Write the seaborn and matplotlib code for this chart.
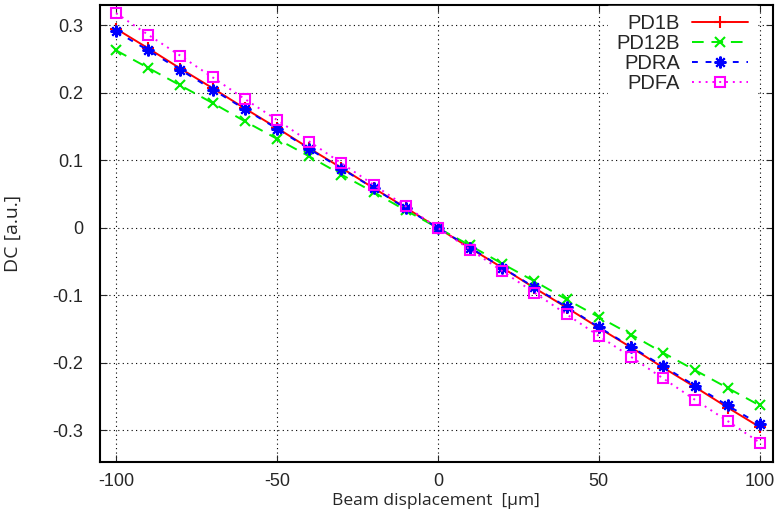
import numpy as np
import pandas as pd
import matplotlib
matplotlib.use("Agg")
import matplotlib.pyplot as plt
import seaborn as sns

# beam displacement in um
x = [-100, -90, -80, -70, -60, -50, -40, -30, -20, -10, 0,
     10, 20, 30, 40, 50, 60, 70, 80, 90, 100]

pd1b = [0.295, 0.266, 0.236, 0.207, 0.177, 0.148, 0.118, 0.089, 0.059, 0.030, 0.0,
        -0.030, -0.059, -0.089, -0.118, -0.148, -0.177, -0.207, -0.236, -0.266, -0.295]
pd12b = [0.263, 0.237, 0.211, 0.185, 0.158, 0.132, 0.106, 0.079, 0.053, 0.026, 0.0,
         -0.026, -0.053, -0.079, -0.106, -0.132, -0.158, -0.185, -0.211, -0.237, -0.263]
pdra = [0.291, 0.263, 0.234, 0.205, 0.176, 0.147, 0.117, 0.088, 0.059, 0.029, 0.0,
        -0.029, -0.059, -0.088, -0.117, -0.147, -0.176, -0.205, -0.234, -0.263, -0.291]
pdfa = [0.318, 0.286, 0.255, 0.223, 0.191, 0.160, 0.128, 0.096, 0.064, 0.032, 0.0,
        -0.032, -0.064, -0.096, -0.128, -0.160, -0.191, -0.223, -0.255, -0.286, -0.318]

names = ["PD1B", "PD12B", "PDRA", "PDFA"]
values = [pd1b, pd12b, pdra, pdfa]

sns.set_style("ticks")
plt.rcParams['font.family'] = ['Liberation Sans', 'DejaVu Sans']
plt.rcParams['axes.unicode_minus'] = False

fig = plt.figure(figsize=(7.75, 5.13), dpi=100)
ax = fig.add_axes([0.129, 0.099, 0.868, 0.891])

styles = {
    "PD1B":  dict(color="#ff0000", linestyle="-", marker="+", ms=8),
    "PD12B": dict(color="#00ee00", linestyle=(0, (6, 4)), marker="x", ms=6.5),
    "PDRA":  dict(color="#0000ff", linestyle=(0, (3, 4)), marker=(8, 2, 0), ms=8.5),
    "PDFA":  dict(color="#ff00ff", linestyle=(0, (1, 2.5)), marker="s", ms=6.5),
}

for name, vals in zip(names, values):
    df = pd.DataFrame({"x": x, "y": vals})
    st = styles[name]
    sns.lineplot(data=df, x="x", y="y", ax=ax, label=name, color=st["color"],
                 linestyle=st["linestyle"], marker=st["marker"], markersize=st["ms"],
                 markerfacecolor="none", markeredgecolor=st["color"],
                 markeredgewidth=1.5, linewidth=1.4)

ax.set_xlim(-105, 104)
ax.set_ylim(-0.347, 0.33)
ax.set_xticks([-100, -50, 0, 50, 100])
ax.set_yticks([-0.3, -0.2, -0.1, 0, 0.1, 0.2, 0.3])
ax.set_yticklabels(["-0.3", "-0.2", "-0.1", "0", "0.1", "0.2", "0.3"])
ax.grid(True, color="black", linestyle=(0, (1, 3)), linewidth=0.8)
ax.tick_params(direction="in", top=True, right=True, length=5, labelsize=13)
ax.tick_params(axis="y", pad=12)
ax.tick_params(axis="x", pad=8)
for s in ax.spines.values():
    s.set_linewidth(1.5)
    s.set_color("black")

ax.set_xlabel("Beam displacement  [\u03bcm]", fontsize=12.5, family=["Open Sans", "DejaVu Sans"],
              labelpad=2)
ax.set_ylabel("DC [a.u.]", fontsize=14, family=["Open Sans", "DejaVu Sans"], labelpad=22)

leg = ax.legend(loc="upper right", bbox_to_anchor=(0.994, 1.024), markerfirst=False,
                fontsize=14.5, frameon=True, fancybox=False, handlelength=2.8,
                labelspacing=0.05, borderaxespad=0.6, handletextpad=0.6)
leg.get_frame().set_edgecolor("white")
leg.get_frame().set_facecolor("white")
leg.get_frame().set_alpha(1)

fig.savefig("out.png", dpi=100)
